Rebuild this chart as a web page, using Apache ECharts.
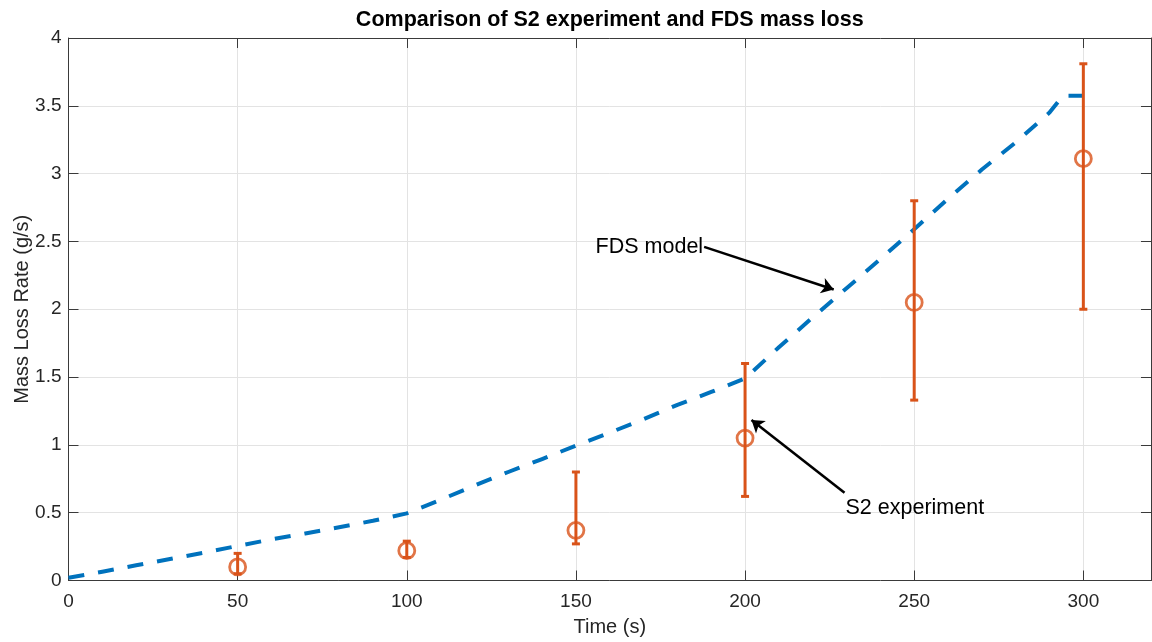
<!DOCTYPE html>
<html>
<head>
<meta charset="utf-8">
<script src="https://cdn.jsdelivr.net/npm/echarts@6/dist/echarts.min.js"></script>
<style>
  html, body { margin: 0; padding: 0; background: #ffffff; }
  #chart { width: 1152px; height: 642px; }
</style>
</head>
<body>
<div id="chart"></div>
<script>
// FDS model mass loss rate (g/s) against time (s)
const fdsTime = [0, 10, 20, 30, 40, 50, 60, 70, 80, 90, 100, 110, 120, 130, 140, 150, 160, 170, 180, 190,
                 200, 210, 220, 230, 240, 250, 260, 270, 280, 290, 294, 300];
const fdsRate = [0.02, 0.065, 0.112, 0.158, 0.205, 0.255, 0.303, 0.347, 0.393, 0.44, 0.495, 0.595, 0.70, 0.80,
                 0.895, 0.995, 1.09, 1.19, 1.295, 1.39, 1.49, 1.72, 1.94, 2.155, 2.37, 2.59, 2.815, 3.03, 3.23,
                 3.45, 3.575, 3.575];

// S2 experiment: mean value with lower / upper error bounds
const expTime = [50, 100, 150, 200, 250, 300];
const expMean = [0.10, 0.22, 0.37, 1.05, 2.05, 3.11];
const expLow  = [0.05, 0.17, 0.27, 0.62, 1.33, 2.00];
const expHigh = [0.20, 0.29, 0.80, 1.60, 2.80, 3.81];

// Axis ticks
const xTicks = [0, 50, 100, 150, 200, 250, 300];
const yTicks = [0, 0.5, 1, 1.5, 2, 2.5, 3, 3.5, 4];

// Annotation texts with arrow tail / head in data units
const noteText = ['FDS model', 'S2 experiment'];
const noteTail = [[187.9, 2.46], [229.4, 0.647]];
const noteHead = [[226.2, 2.146], [201.9, 1.184]];

const FONT = '"Liberation Sans", Arial, Helvetica, sans-serif';
const AXIS_COLOR = '#3a3a3a';
const TEXT_COLOR = '#262626';
const BLUE = '#0072BD';
const ORANGE = '#D95319';

const chart = echarts.init(document.getElementById('chart'), null, { renderer: 'canvas' });

const GRID = { left: 68.5, right: 1, top: 38, bottom: 61.5 };

const boxAxis = {
  axisLine: { show: true, onZero: false, lineStyle: { color: AXIS_COLOR, width: 1 } },
  axisTick: { show: true, inside: true, length: 10, lineStyle: { color: AXIS_COLOR, width: 1 } },
  axisLabel: { show: false },
  splitLine: { show: false }
};

const option = {
  animation: false,
  backgroundColor: '#ffffff',
  textStyle: { fontFamily: FONT },
  grid: Object.assign({ containLabel: false, outerBoundsMode: 'none' }, GRID),
  graphic: [{
    type: 'text',
    x: GRID.left + (1152 - GRID.left - GRID.right) / 2,
    y: 20,
    silent: true,
    style: {
      text: 'Comparison of S2 experiment and FDS mass loss',
      font: 'bold 21.5px ' + FONT,
      fill: '#000000',
      align: 'center',
      verticalAlign: 'middle'
    }
  }],
  xAxis: [
    {
      type: 'value',
      position: 'bottom',
      min: 0, max: 320, interval: 50,
      name: 'Time (s)',
      nameLocation: 'middle',
      nameGap: 37,
      nameMoveOverlap: false,
      nameTextStyle: { fontFamily: FONT, fontSize: 20, color: TEXT_COLOR },
      axisLine: { show: true, onZero: false, lineStyle: { color: AXIS_COLOR, width: 1 } },
      axisTick: { show: true, inside: true, length: 10, lineStyle: { color: AXIS_COLOR, width: 1 } },
      axisLabel: {
        show: true, margin: 12, fontFamily: FONT, fontSize: 19, color: TEXT_COLOR,
        customValues: xTicks
      },
      splitLine: { show: true, lineStyle: { color: '#e3e3e3', width: 1 } }
    },
    Object.assign({ type: 'value', position: 'top', min: 0, max: 320, interval: 50 }, boxAxis)
  ],
  yAxis: [
    {
      type: 'value',
      position: 'left',
      min: 0, max: 4, interval: 0.5,
      name: 'Mass Loss Rate (g/s)',
      nameLocation: 'middle',
      nameGap: 36,
      nameMoveOverlap: false,
      nameTextStyle: { fontFamily: FONT, fontSize: 20, color: TEXT_COLOR },
      axisLine: { show: true, onZero: false, lineStyle: { color: AXIS_COLOR, width: 1 } },
      axisTick: { show: true, inside: true, length: 10, lineStyle: { color: AXIS_COLOR, width: 1 } },
      axisLabel: {
        show: true, margin: 7, fontFamily: FONT, fontSize: 19, color: TEXT_COLOR,
        customValues: yTicks
      },
      splitLine: { show: true, lineStyle: { color: '#e3e3e3', width: 1 } }
    },
    Object.assign({ type: 'value', position: 'right', min: 0, max: 4, interval: 0.5 }, boxAxis)
  ],
  series: [
    {
      name: 'FDS model',
      type: 'line',
      data: fdsTime.map((t, i) => [t, fdsRate[i]]),
      showSymbol: false,
      smooth: false,
      silent: true,
      z: 2,
      lineStyle: { color: BLUE, width: 4, type: [16, 14], cap: 'butt', join: 'round' },
      markLine: {
        silent: true,
        symbol: ['none', 'arrow'],
        symbolSize: 12,
        label: { show: false },
        lineStyle: { color: '#000000', width: 2.6, type: 'solid' },
        data: noteTail.map((p, i) => [{ coord: p }, { coord: noteHead[i] }])
      },
      markPoint: {
        silent: true,
        symbol: 'circle',
        symbolSize: 0,
        data: noteText.map((txt, i) => ({
          coord: noteTail[i],
          label: {
            show: true,
            formatter: txt,
            position: i === 0 ? 'left' : 'right',
            distance: 1,
            offset: i === 0 ? [0, 0] : [0, 15],
            fontFamily: FONT,
            fontSize: 21.5,
            color: '#000000'
          }
        }))
      }
    },
    {
      name: 'S2 experiment error',
      type: 'custom',
      silent: true,
      z: 3,
      data: expTime.map((t, i) => [t, expLow[i], expHigh[i]]),
      encode: { x: 0, y: [1, 2] },
      renderItem: function (params, api) {
        const x = api.value(0);
        const lo = api.coord([x, api.value(1)]);
        const hi = api.coord([x, api.value(2)]);
        const cap = 4;
        const style = { stroke: ORANGE, lineWidth: 3, fill: null };
        return {
          type: 'group',
          children: [
            { type: 'line', shape: { x1: lo[0], y1: lo[1], x2: hi[0], y2: hi[1] }, style: style },
            { type: 'line', shape: { x1: lo[0] - cap, y1: lo[1], x2: lo[0] + cap, y2: lo[1] }, style: style },
            { type: 'line', shape: { x1: hi[0] - cap, y1: hi[1], x2: hi[0] + cap, y2: hi[1] }, style: style }
          ]
        };
      }
    },
    {
      name: 'S2 experiment',
      type: 'scatter',
      silent: true,
      z: 4,
      data: expTime.map((t, i) => [t, expMean[i]]),
      symbol: 'circle',
      symbolSize: 16,
      itemStyle: { color: 'rgba(0,0,0,0)', borderColor: ORANGE, borderWidth: 2.8 }
    }
  ]
};

chart.setOption(option);
</script>
</body>
</html>
